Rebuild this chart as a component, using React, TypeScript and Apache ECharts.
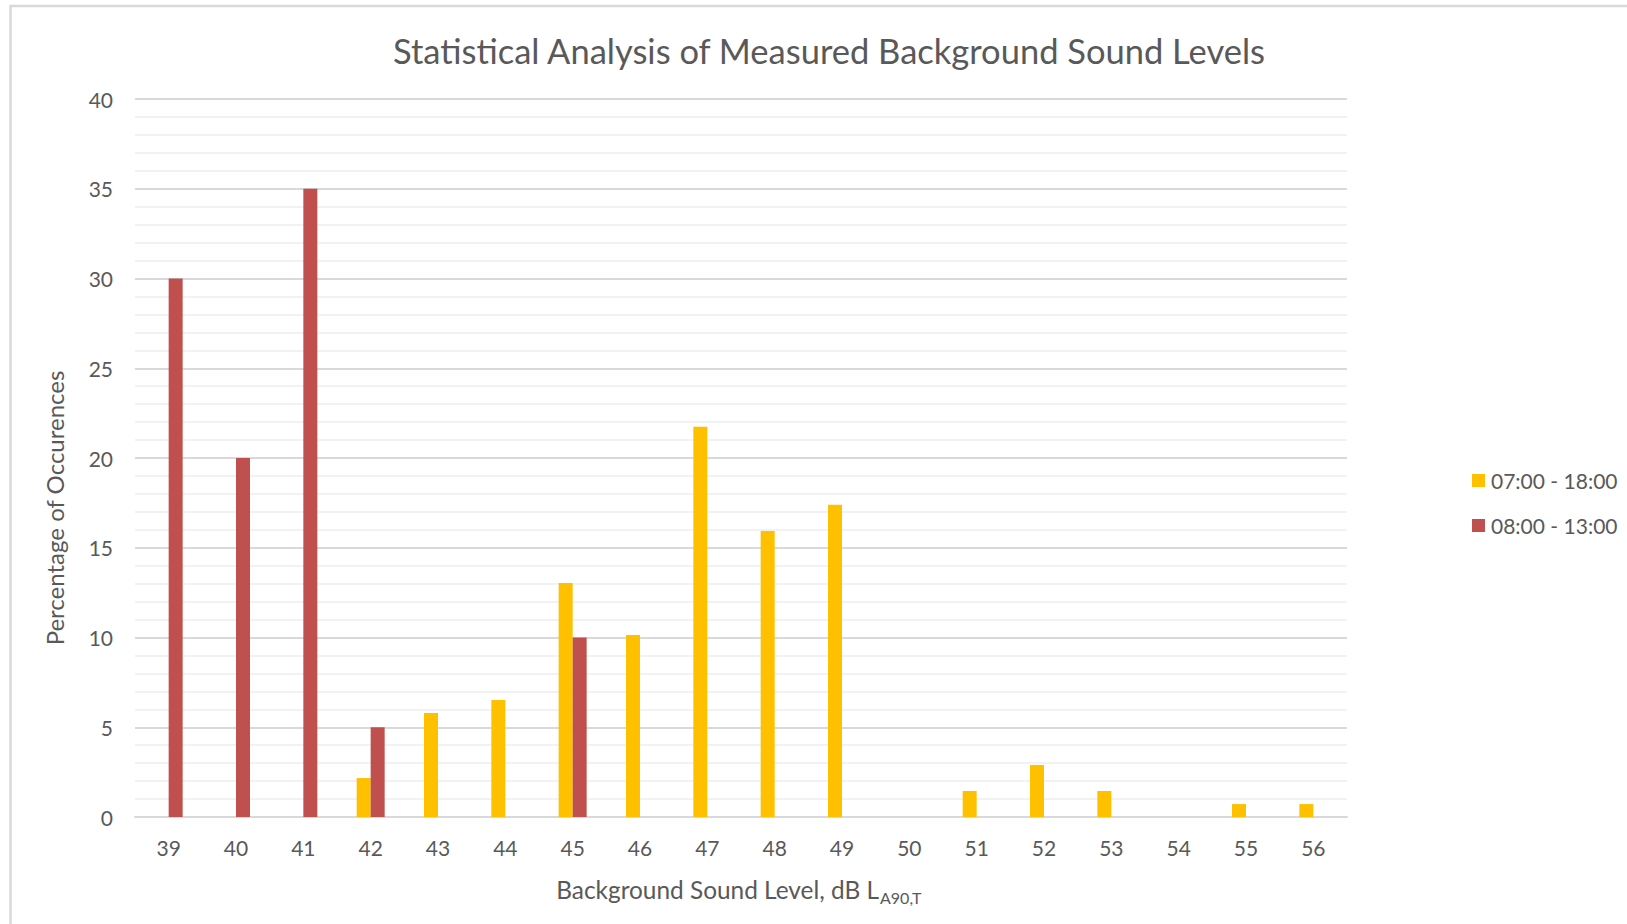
import React, { useEffect, useRef } from "react";
import * as echarts from "echarts";

const categories = ["39", "40", "41", "42", "43", "44", "45", "46", "47", "48", "49", "50", "51", "52", "53", "54", "55", "56"];
const daySeriesName = "07:00 - 18:00";
const morningSeriesName = "08:00 - 13:00";
const dayValues = [0, 0, 0, 2.17, 5.8, 6.52, 13.04, 10.14, 21.74, 15.94, 17.39, 0, 1.45, 2.9, 1.45, 0, 0.72, 0.72];
const morningValues = [30, 20, 35, 5, 0, 0, 10, 0, 0, 0, 0, 0, 0, 0, 0, 0, 0, 0];
const titleText = "Statistical Analysis of Measured Background Sound Levels";
const yAxisTitle = "Percentage of Occurences";
const xAxisTitleMain = "Background Sound Level, dB L";
const xAxisTitleSub = "A90,T";

const FONT = "Lato, 'Open Sans', sans-serif";
const TXT = "#595959";

export default function App() {
  const ref = useRef<HTMLDivElement>(null);
  useEffect(() => {
    if (!ref.current) return;
    const chart = echarts.init(ref.current, null, { renderer: "svg" });
    chart.setOption({
      animation: false,
      backgroundColor: "#ffffff",
      textStyle: { fontFamily: FONT },
      title: {
        text: titleText,
        left: 824,
        textAlign: "center",
        top: 28,
        textStyle: { fontFamily: FONT, fontSize: 34.5, fontWeight: "normal", color: TXT },
      },
      legend: {
        orient: "vertical",
        left: 1467,
        top: 465,
        itemWidth: 13,
        itemHeight: 13,
        itemGap: 24,
        icon: "rect",
        textStyle: { fontFamily: FONT, fontSize: 21, color: TXT, padding: [0, 0, 0, 1] },
        data: [daySeriesName, morningSeriesName],
      },
      grid: { left: 135, right: 280, top: 99, bottom: 107, containLabel: false },
      xAxis: {
        type: "category",
        data: categories,
        axisLine: { show: true, lineStyle: { color: "#d9d9d9", width: 2 } },
        axisTick: { show: false },
        axisLabel: { color: TXT, fontSize: 21, fontFamily: FONT, margin: 20 },
        splitLine: { show: false },
      },
      yAxis: {
        type: "value",
        min: 0,
        max: 40,
        interval: 5,
        axisLine: { show: false },
        axisTick: { show: false },
        axisLabel: { color: TXT, fontSize: 21, fontFamily: FONT, margin: 22 },
        splitLine: { show: true, lineStyle: { color: "#d9d9d9", width: 2 } },
        minorTick: { show: false, splitNumber: 5 },
        minorSplitLine: { show: true, lineStyle: { color: "#f2f2f2", width: 2 } },
      },
      series: [
        {
          name: daySeriesName,
          type: "bar",
          data: dayValues,
          barWidth: 14,
          barGap: "0%",
          itemStyle: { color: "#FFC000" },
        },
        {
          name: morningSeriesName,
          type: "bar",
          data: morningValues,
          barWidth: 14,
          barGap: "0%",
          itemStyle: { color: "#C0504D" },
        },
      ],
      graphic: [
        {
          type: "rect",
          silent: true,
          shape: { x: 10.5, y: 6, width: 2000, height: 2000 },
          style: { fill: "none", stroke: "#d9d9d9", lineWidth: 2.5 },
        },
        {
          type: "text",
          x: 54,
          y: 508,
          rotation: Math.PI / 2,
          style: {
            text: yAxisTitle,
            fontFamily: FONT,
            fontSize: 24,
            fill: TXT,
            align: "center",
            verticalAlign: "middle",
          },
        },
        {
          type: "text",
          x: 879,
          y: 889,
          style: {
            text: xAxisTitleMain,
            fontFamily: FONT,
            fontSize: 24.4,
            fill: TXT,
            align: "right",
            verticalAlign: "middle",
          },
        },
        {
          type: "text",
          x: 880,
          y: 897,
          style: {
            text: xAxisTitleSub,
            fontFamily: FONT,
            fontSize: 16,
            fill: TXT,
            align: "left",
            verticalAlign: "middle",
          },
        },
      ],
    });
    return () => chart.dispose();
  }, []);
  return (
    <div
      ref={ref}
      style={{ position: "absolute", left: 0, top: 0, width: 1627, height: 924 }}
    />
  );
}
